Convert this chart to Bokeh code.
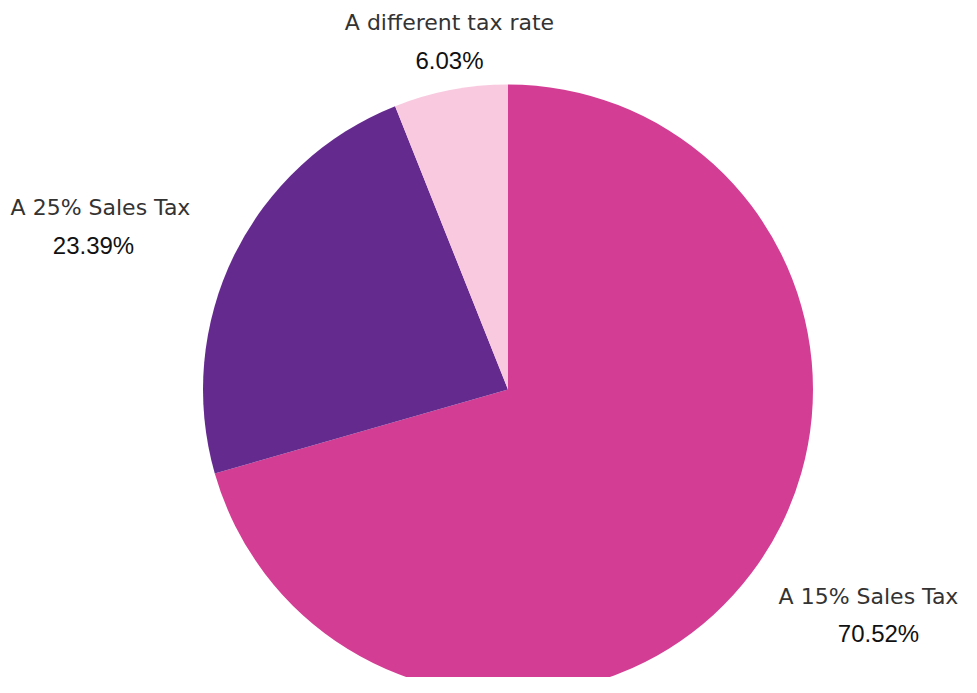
import numpy as np
from bokeh.plotting import figure
from bokeh.models import Range1d, ColumnDataSource
from bokeh.core.properties import value
from bokeh.embed import file_html
from bokeh.resources import INLINE

categories = ["A 15% Sales Tax", "A 25% Sales Tax", "A different tax rate"]
shares = [70.52, 23.39, 6.03]
pct_labels = ["70.52%", "23.39%", "6.03%"]
colors = ["#D43D94", "#652A8E", "#F8C9DF"]

W, H = 961, 677
# data coords: x = screen x, y = 693 - screen y
p = figure(width=W, height=H, output_backend="svg", toolbar_location=None,
           x_range=Range1d(0, W), y_range=Range1d(693 - H, 693),
           min_border=0, outline_line_color=None, background_fill_color="white")
p.axis.visible = False
p.grid.visible = False

cx, cy, r = 507.5, 693 - 389, 305
total = sum(shares)
cum = np.cumsum([0] + shares) / total
starts = [np.pi / 2 - 2 * np.pi * cum[i] for i in range(len(shares))]
ends = [np.pi / 2 - 2 * np.pi * cum[i + 1] for i in range(len(shares))]
src = ColumnDataSource(dict(start=starts, end=ends, color=colors))
p.wedge(x=cx, y=cy, radius=r, start_angle="start", end_angle="end",
        direction="clock", fill_color="color", line_color=None, source=src)

label_x = [868, 100, 449]
label_y = [693 - 596, 693 - 207, 693 - 22]
pct_x = [878, 93, 449]
pct_y = [693 - 633, 693 - 245, 693 - 60]

p.text(x=label_x, y=label_y, text=categories, text_font=value("DejaVu Sans"),
       text_font_size="22px", text_color="#333333", text_align="center",
       text_baseline="middle")
p.text(x=pct_x, y=pct_y, text=pct_labels, text_font=value("Liberation Sans"),
       text_font_size="24px", text_color="#111111", text_align="center",
       text_baseline="middle")

open("out.html", "w").write(file_html(p, INLINE))
